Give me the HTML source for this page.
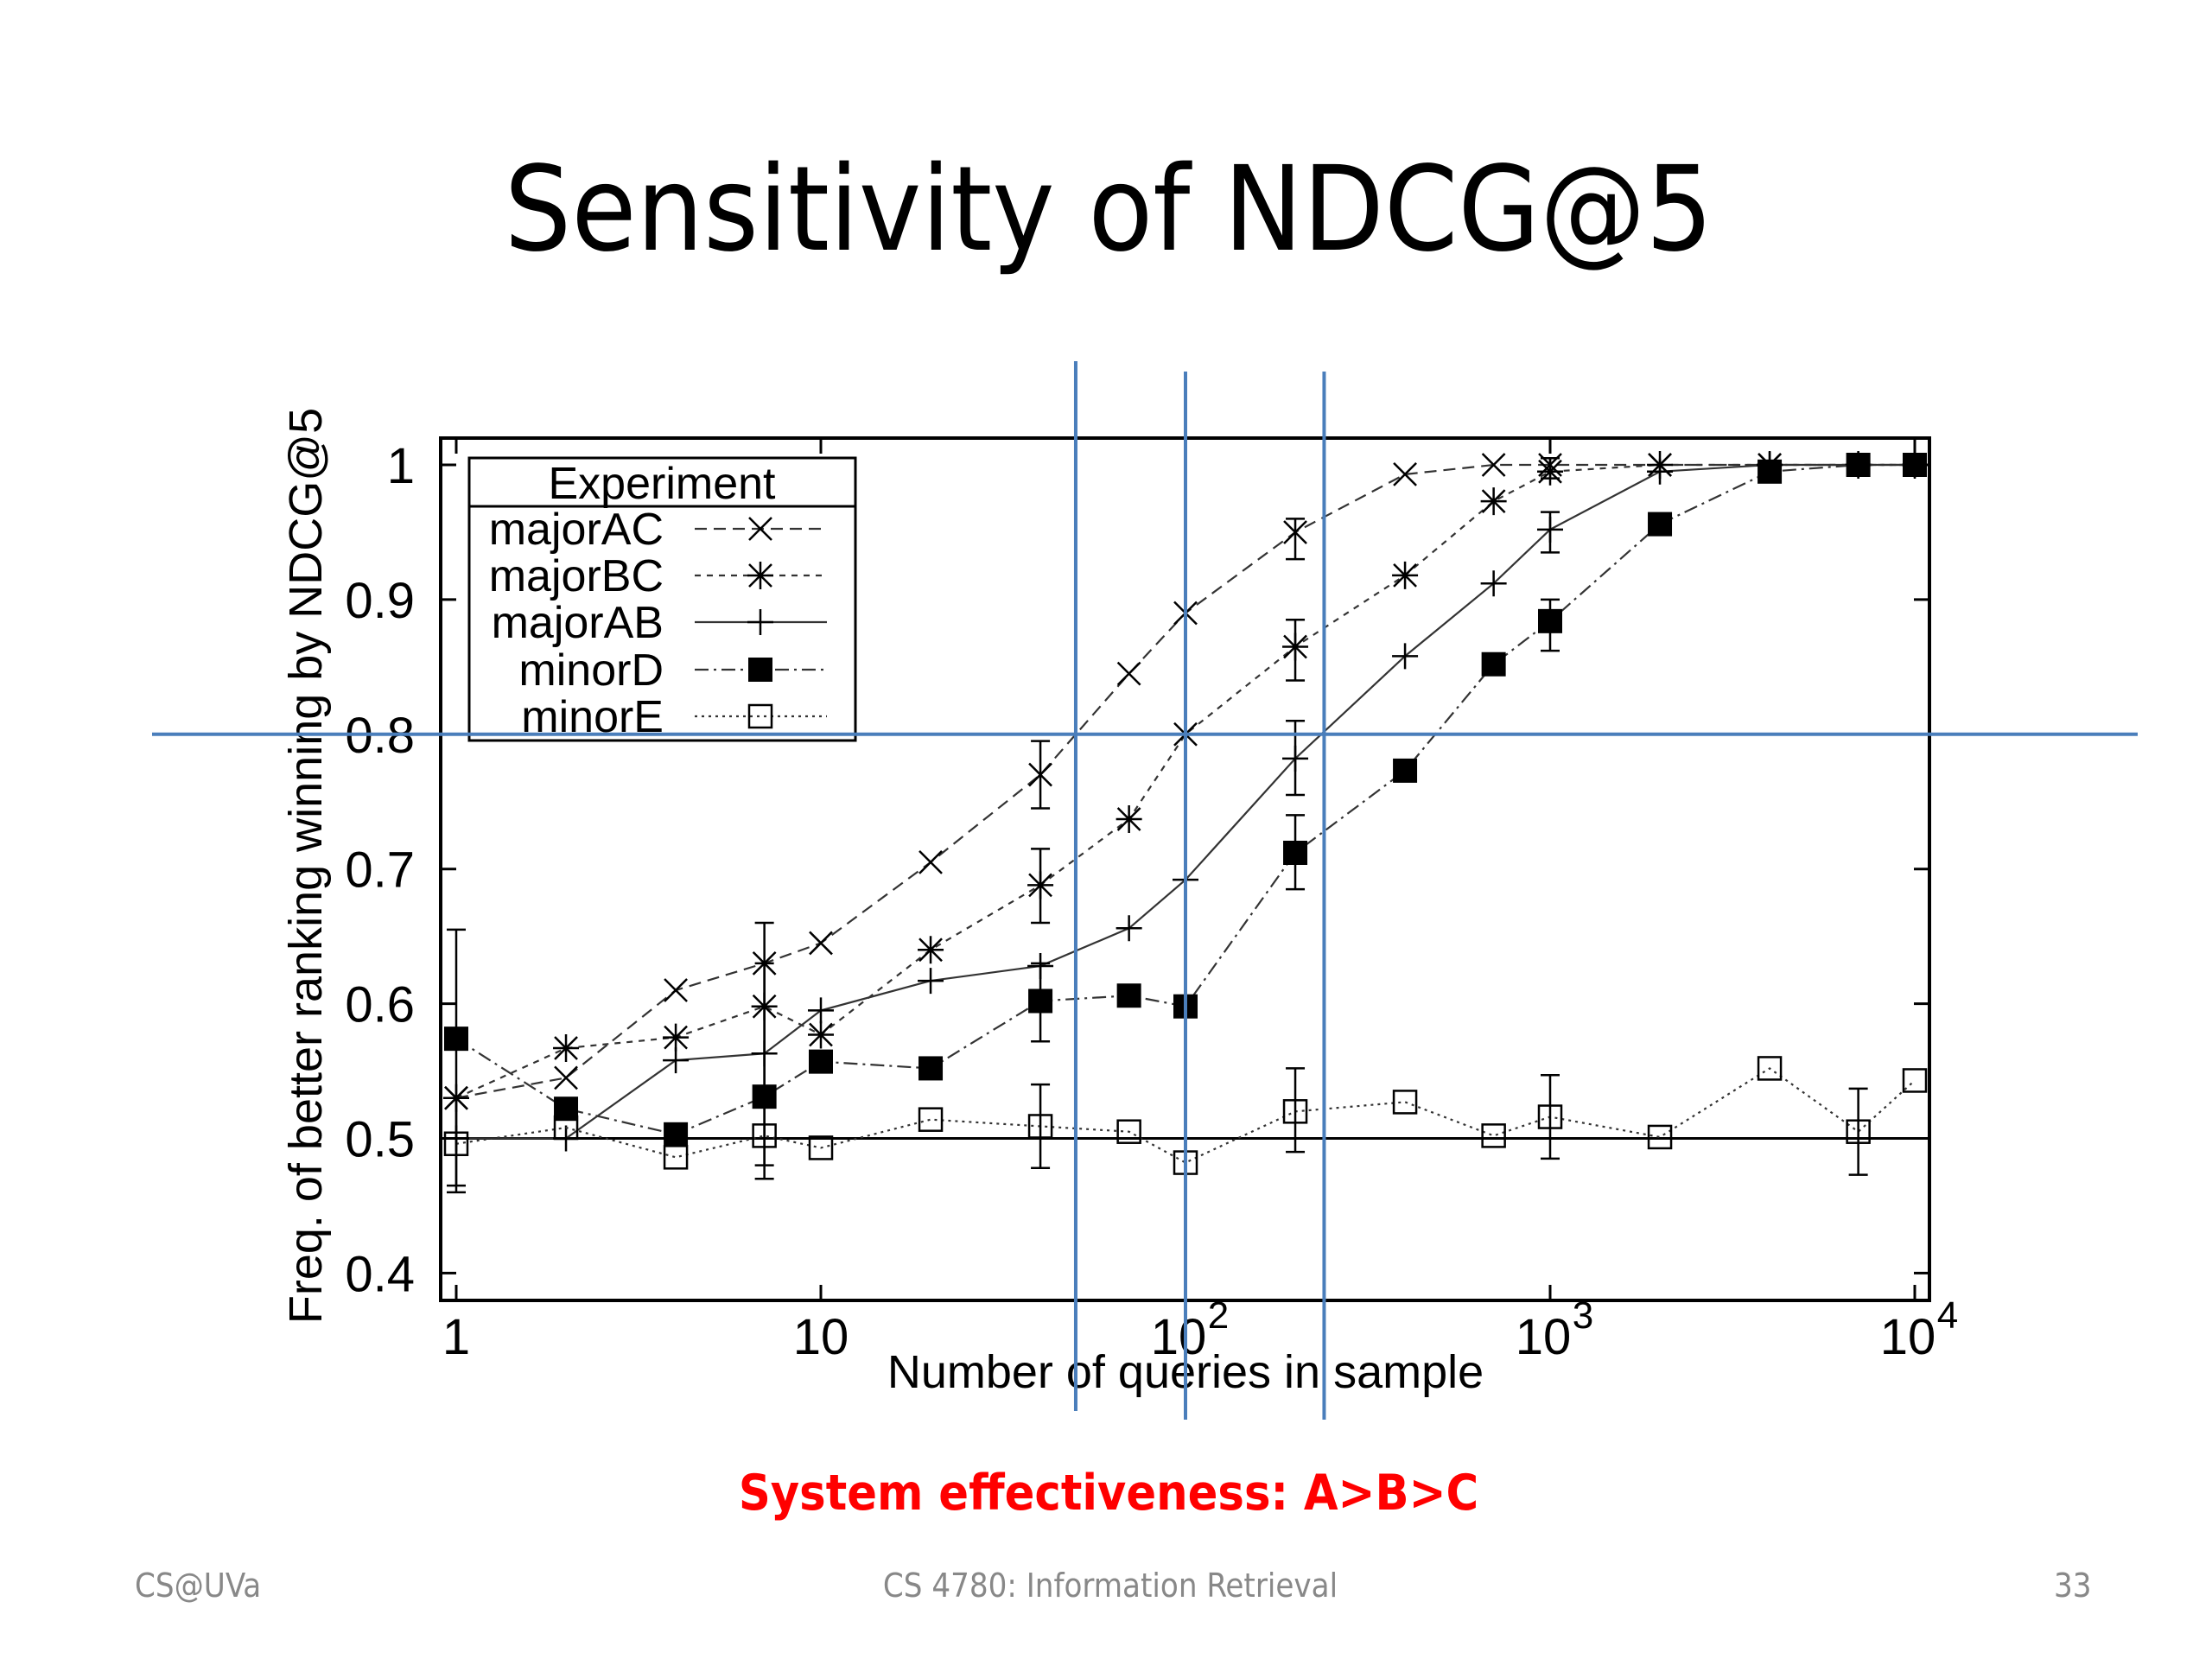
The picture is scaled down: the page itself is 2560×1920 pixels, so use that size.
<!DOCTYPE html>
<html><head><meta charset="utf-8"><style>
html,body{margin:0;padding:0;background:#fff;}
body{width:2560px;height:1920px;position:relative;overflow:hidden;font-family:"Liberation Sans",sans-serif;}
.t{position:absolute;white-space:nowrap;}
</style></head><body>
<div class="t" style="left:0;width:2566px;text-align:center;top:168px;font-size:136px;line-height:150px;color:#000;font-family:'DejaVu Sans Condensed','DejaVu Sans','Liberation Sans',sans-serif;">Sensitivity of NDCG@5</div>
<svg id="chart" width="2560" height="1920" style="position:absolute;left:0;top:0" xmlns="http://www.w3.org/2000/svg"></svg>
<div class="t" style="left:0;width:2566px;text-align:center;top:1693px;font-size:57px;line-height:70px;font-weight:bold;color:#ff0000;font-family:'DejaVu Sans Condensed','Liberation Sans Narrow','Liberation Sans',sans-serif;">System effectiveness: A&gt;B&gt;C</div>
<div class="t" style="left:156px;top:1813px;font-size:38px;color:#888;font-family:'DejaVu Sans Condensed','Liberation Sans',sans-serif;">CS@UVa</div>
<div class="t" style="left:0;width:2570px;text-align:center;top:1813px;font-size:38px;color:#888;font-family:'DejaVu Sans Condensed','Liberation Sans',sans-serif;">CS 4780: Information Retrieval</div>
<div class="t" style="left:2377px;top:1813px;font-size:38px;color:#888;font-family:'DejaVu Sans Condensed','Liberation Sans',sans-serif;">33</div>
<script>
const xVals=[1,2,4,7,10,20,40,70,100,200,400,700,1000,2000,4000,7000,10000];
const majorAC=[0.53,0.545,0.61,0.63,0.645,0.705,0.77,0.845,0.89,0.95,0.993,1.0,1.0,1.0,1.0,1.0,1.0];
const majorBC=[0.53,0.567,0.575,0.598,0.577,0.64,0.688,0.737,0.80,0.865,0.918,0.973,0.995,1.0,1.0,1.0,1.0];
const majorAB=[0.5,0.5,0.558,0.563,0.595,0.617,0.628,0.656,0.692,0.782,0.858,0.912,0.952,0.995,1.0,1.0,1.0];
const minorD=[0.574,0.522,0.503,0.531,0.557,0.552,0.602,0.606,0.598,0.712,0.773,0.852,0.884,0.956,0.995,1.0,1.0];
const minorE=[0.496,0.508,0.486,0.502,0.493,0.514,0.509,0.505,0.482,0.52,0.527,0.502,0.516,0.501,0.552,0.505,0.543];
const errX=[1,1,7,7,40,40,40,40,200,200,200,200,200,1000,1000,1000,1000,7000];
const errLo=[0.46,0.465,0.47,0.48,0.745,0.66,0.572,0.478,0.93,0.84,0.755,0.685,0.49,0.99,0.935,0.862,0.485,0.473];
const errHi=[0.655,0.53,0.66,0.63,0.795,0.715,0.63,0.54,0.96,0.885,0.81,0.74,0.552,1.005,0.965,0.9,0.547,0.537];
const yTicks=[0.4,0.5,0.6,0.7,0.8,0.9,1.0];
const yTickLabels=["0.4","0.5","0.6","0.7","0.8","0.9","1"];
const xTicks=[1,10,100,1000,10000];
const xTickBase=["1","10","10","10","10"];
const xTickExp=["","","2","3","4"];
const blueX=[50,100,240];
const blueY=0.8;

const NS="http://www.w3.org/2000/svg";
const svg=document.getElementById('chart');
const L=510,R=2233,T=507,B=1505;
const X=v=>528+Math.log10(v)*422;
const Y=v=>538+(1-v)*1559;
function el(tag,attrs,parent){const e=document.createElementNS(NS,tag);for(const k in attrs)e.setAttribute(k,attrs[k]);(parent||svg).appendChild(e);return e;}

const fr=el('rect',{x:L,y:T,width:R-L,height:B-T,fill:'none',stroke:'#000','stroke-width':4});


yTicks.forEach((v,i)=>{
  const g=el('g',{});
  
  
  el('line',{x1:L,x2:L+18,y1:Y(v),y2:Y(v),stroke:'#000','stroke-width':3},g);
  el('line',{x1:R-18,x2:R,y1:Y(v),y2:Y(v),stroke:'#000','stroke-width':3},g);
  const t=el('text',{x:480,y:Y(v)+21,'text-anchor':'end','font-size':58,'font-family':'Liberation Sans, sans-serif'},g);
  t.textContent=yTickLabels[i];
});
xTicks.forEach((v,i)=>{
  const g=el('g',{});
  
  
  el('line',{x1:X(v),x2:X(v),y1:B,y2:B-18,stroke:'#000','stroke-width':3},g);
  el('line',{x1:X(v),x2:X(v),y1:T,y2:T+18,stroke:'#000','stroke-width':3},g);
  const t=el('text',{x:X(v)+(xTickExp[i]?-8:0),y:1567,'text-anchor':'middle','font-size':58,'font-family':'Liberation Sans, sans-serif'},g);
  t.textContent=xTickBase[i];
  if(xTickExp[i]){const s=el('text',{x:X(v)+38,y:1537,'text-anchor':'middle','font-size':44,'font-family':'Liberation Sans, sans-serif'},g);s.textContent=xTickExp[i];}
});
const rl=el('line',{x1:L,x2:R,y1:Y(0.5),y2:Y(0.5),stroke:'#000','stroke-width':3});


const yt=el('text',{x:0,y:0,'text-anchor':'middle','font-size':54,'font-family':'Liberation Sans, sans-serif',transform:'translate(372,1002) rotate(-90)'});
yt.textContent='Freq. of better ranking winning by NDCG@5';


const xt=el('text',{x:1372,y:1606,'text-anchor':'middle','font-size':54,'font-family':'Liberation Sans, sans-serif'});
xt.textContent='Number of queries in sample';



function marker(type,cx,cy,g){
  if(type==='x'){el('path',{d:`M${cx-13},${cy-13}L${cx+13},${cy+13}M${cx-13},${cy+13}L${cx+13},${cy-13}`,stroke:'#000','stroke-width':2.5,fill:'none'},g);}
  else if(type==='*'){el('path',{d:`M${cx-13},${cy-13}L${cx+13},${cy+13}M${cx-13},${cy+13}L${cx+13},${cy-13}M${cx},${cy-16}L${cx},${cy+16}M${cx-15},${cy}L${cx+15},${cy}`,stroke:'#000','stroke-width':2.5,fill:'none'},g);}
  else if(type==='+'){el('path',{d:`M${cx},${cy-15}L${cx},${cy+15}M${cx-15},${cy}L${cx+15},${cy}`,stroke:'#000','stroke-width':2.5,fill:'none'},g);}
  else if(type==='sq'){el('rect',{x:cx-14,y:cy-14,width:28,height:28,fill:'#000'},g);}
  else if(type==='osq'){el('rect',{x:cx-13,y:cy-13,width:26,height:26,fill:'none',stroke:'#000','stroke-width':2.5},g);}
}
const series=[
  {name:'majorAC',data:majorAC,dash:'14,8',m:'x',w:2.2},
  {name:'majorBC',data:majorBC,dash:'7,7',m:'*',w:2.2},
  {name:'majorAB',data:majorAB,dash:'',m:'+',w:2.2},
  {name:'minorD',data:minorD,dash:'16,6,3,6',m:'sq',w:2.2},
  {name:'minorE',data:minorE,dash:'3,5',m:'osq',w:2.2},
];
series.forEach(s=>{
  const g=el('g',{});
  
  
  const pts=xVals.map((x,i)=>X(x)+','+Y(s.data[i])).join(' ');
  const pl=el('polyline',{points:pts,fill:'none',stroke:'#333','stroke-width':s.w,'stroke-dasharray':s.dash},g);
  
  
  xVals.forEach((x,i)=>marker(s.m,X(x),Y(s.data[i]),g));
});
const eg=el('g',{});


errX.forEach((x,i)=>{
  const cx=X(x),y1=Y(errLo[i]),y2=Y(errHi[i]);
  el('path',{d:`M${cx},${y1}L${cx},${y2}M${cx-11},${y1}L${cx+11},${y1}M${cx-11},${y2}L${cx+11},${y2}`,stroke:'#000','stroke-width':2.5,fill:'none'},eg);
});
const lg=el('g',{});


el('rect',{x:543,y:530,width:447,height:327,fill:'#fff',stroke:'#000','stroke-width':3},lg);
el('line',{x1:543,x2:990,y1:586,y2:586,stroke:'#000','stroke-width':3},lg);
const lt=el('text',{x:766,y:577,'text-anchor':'middle','font-size':52,'font-family':'Liberation Sans, sans-serif'},lg);
lt.textContent='Experiment';
const rowsY=[612,666,720,775,829];
series.forEach((s,i)=>{
  const g=el('g',{},lg);
  
  
  const t=el('text',{x:768,y:rowsY[i]+18,'text-anchor':'end','font-size':52,'font-family':'Liberation Sans, sans-serif'},g);
  t.textContent=s.name;
  el('line',{x1:804,x2:957,y1:rowsY[i],y2:rowsY[i],stroke:'#333','stroke-width':2.2,'stroke-dasharray':s.dash},g);
  marker(s.m,880,rowsY[i],g);
});
const bg=el('g',{});


el('line',{x1:176,x2:2474,y1:Y(blueY),y2:Y(blueY),stroke:'#4a7ebb','stroke-width':4},bg);
blueX.forEach((v,i)=>{
  el('line',{x1:X(v),x2:X(v),y1:i===0?418:430,y2:i===0?1633:1643,stroke:'#4a7ebb','stroke-width':4},bg);
});
</script>
</body></html>
